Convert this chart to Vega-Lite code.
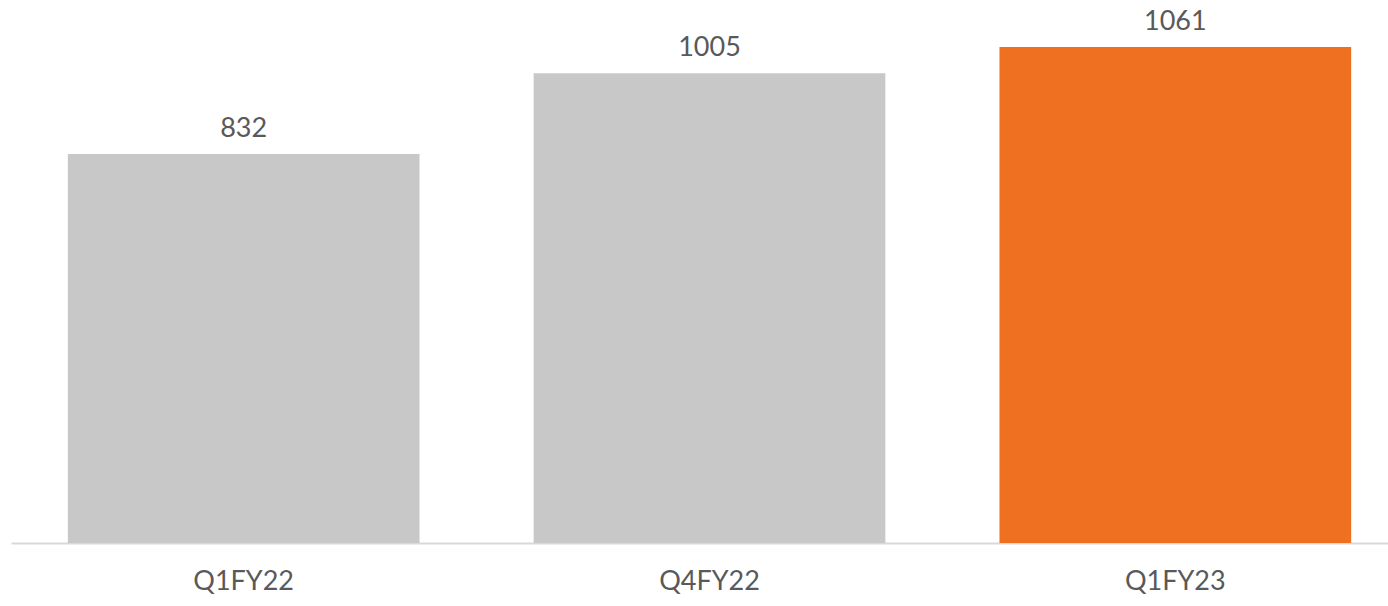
{
  "$schema": "https://vega.github.io/schema/vega-lite/v6.json",
  "autosize": "none",
  "width": 1397,
  "height": 543,
  "padding": {"left": 11, "top": 0, "right": 0, "bottom": 63},
  "background": "white",
  "config": {"view": {"stroke": null}},
  "data": {"values": [
    {"period": "Q1FY22", "value": 832, "highlight": "no"},
    {"period": "Q4FY22", "value": 1005, "highlight": "no"},
    {"period": "Q1FY23", "value": 1061, "highlight": "yes"}
  ]},
  "encoding": {
    "x": {"field": "period", "type": "nominal", "sort": null,
      "scale": {"paddingInner": 0.245, "paddingOuter": 0.122},
      "axis": {"title": null, "labelAngle": 0, "labelFont": "Lato", "labelFontSize": 27, "labelColor": "#595959", "labelPadding": 25, "ticks": false, "domainColor": "#d9d9d9", "domainWidth": 2, "grid": false}},
    "y": {"field": "value", "type": "quantitative",
      "scale": {"domain": [0, 1161.5], "nice": false, "zero": true},
      "axis": null}
  },
  "layer": [
    {"mark": {"type": "bar"},
     "encoding": {"color": {"field": "highlight", "type": "nominal", "scale": {"domain": ["no", "yes"], "range": ["#c8c8c8", "#f07022"]}, "legend": null}}},
    {"mark": {"type": "text", "baseline": "bottom", "dy": -11, "font": "Lato", "fontSize": 27, "color": "#595959"},
     "encoding": {"text": {"field": "value", "type": "quantitative"}}}
  ]
}
